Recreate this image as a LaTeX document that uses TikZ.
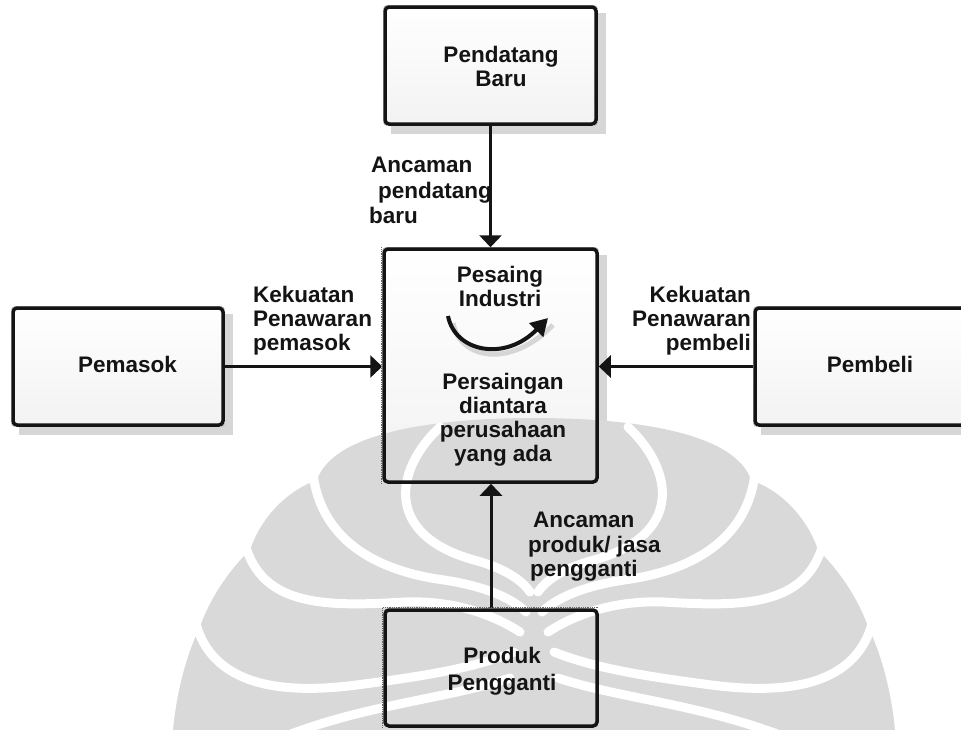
\documentclass[tikz,border=0pt]{standalone}
\usepackage{fontspec}
\setmainfont{Liberation Sans}
\usetikzlibrary{arrows.meta}
\pgfdeclarelayer{bg}
\pgfdeclarelayer{wm}
\pgfsetlayers{bg,wm,main}
\tikzset{
  box/.style={draw=black!92, line width=3.5pt, rounded corners=4pt, inner sep=0pt},
  lbl/.style={font=\bfseries\fontsize{22.5pt}{#1}\selectfont, inner sep=0pt, text=black!92},
  lbl/.default=24pt,
  conn/.style={line width=3pt, draw=black!92, -{Triangle[length=12pt,width=22pt]}},
  wmline/.style={white, line width=9pt, line cap=round},
  wmfill/.style={fill=black!15},
}
\begin{document}
\begin{tikzpicture}[x=1pt,y=-1pt]
\useasboundingbox (0,0) rectangle (961,729);

% boxes
\node[box, minimum width=211pt, minimum height=117pt] (top) at (490.5,65.5) {};
\node[box, minimum width=213pt, minimum height=233pt] (mid) at (490.5,365.5) {};
\node[box, minimum width=210pt, minimum height=117pt] (lft) at (118,366.5) {};
\node[box, minimum width=212pt, minimum height=117pt] (rgt) at (861,366.5) {};
\node[box, minimum width=212pt, minimum height=116pt] (bot) at (491,668) {};

% texts in boxes
\node[lbl=24pt, align=center, anchor=north] (topt) at (501,46) {Pendatang\\Baru};
\node[lbl=24pt, align=center, anchor=north] (midt1) at (500,266) {Pesaing\\Industri};
\node[lbl=24pt, align=center, anchor=north] (midt2) at (503,373) {Persaingan\\diantara\\perusahaan\\yang ada};
\node[lbl, anchor=base] (lftt) at (127.5,372) {Pemasok};
\node[lbl, anchor=base] (rgtt) at (870,372) {Pembeli};
\node[lbl=26.5pt, align=center, anchor=north] (bott) at (502,647) {Produk\\Pengganti};

% connector labels
\node[lbl=25.5pt, align=left, anchor=north west] (l1) at (369,157) {\hspace*{2pt}Ancaman\\\hspace*{9pt}pendatang\\baru};
\node[lbl=24pt, align=left, anchor=north west] (l2) at (253,286) {Kekuatan\\Penawaran\\pemasok};
\node[lbl=24pt, align=right, anchor=north east] (l3) at (751,286) {Kekuatan\\Penawaran\\pembeli};
\node[lbl=24.5pt, align=left, anchor=north west] (l4) at (528,512) {\hspace*{5pt}Ancaman\\produk/ jasa\\\hspace*{2pt}pengganti};

% connectors
\draw[conn] (top.south) -- (mid.north);
\draw[conn] (lft.east) -- (lft.east -| mid.west);
\draw[conn] (rgt.west) -- (rgt.west -| mid.east);
\draw[conn] (bot.north) -- (bot.north |- mid.south);

% curved arrow inside
\coordinate (cs) at (448,316);
\coordinate (ce) at (548,318);
\draw[line width=4pt, black!92, -{Triangle[length=17pt,width=19pt]}] (cs) .. controls (455,352) and (505,362) .. (ce);

% dotted artefacts
\draw[black!60, line width=0.8pt, densely dotted] ([xshift=-1pt]mid.north west) -- ([xshift=-1pt]mid.south west);
\draw[black!60, line width=0.8pt, densely dotted] ([xshift=-1pt]bot.north west) -- ([xshift=-1pt]bot.south west);
\draw[black!60, line width=0.8pt, densely dotted] ([yshift=1pt]bot.north west) -- ([yshift=1pt]bot.north east);

\begin{pgfonlayer}{bg}
  \foreach \n in {top,mid,lft,rgt,bot}{
    \fill[black!16] ([shift={(8,8)}]\n.north west) rectangle ([shift={(8,8)}]\n.south east);
    \fill[top color=white, bottom color=black!5, rounded corners=4pt] (\n.north west) rectangle (\n.south east);
  }
  \draw[black!16, line width=5pt] (453,323) .. controls (460,359) and (510,369) .. (553,325);
\end{pgfonlayer}

\begin{pgfonlayer}{wm}
  \foreach \s in {1,-1}{
    \begin{scope}[shift={(534,0)}, xscale=\s]
      \fill[wmfill] (3,418) -- (0,418) .. controls (-90,418) and (-200,430) .. (-217,480)
        .. controls (-245,490) and (-272,515) .. (-284,550)
        .. controls (-305,570) and (-325,600) .. (-334,627)
        .. controls (-348,655) and (-360,700) .. (-362,745) -- (3,745) -- cycle;
    \end{scope}
  }
  \foreach \s in {1,-1}{
    \begin{scope}[shift={(534,0)}, xscale=\s]
      \draw[wmline] (-94,427) .. controls (-140,470) and (-150,535) .. (-60,560)
        .. controls (-30,568) and (-12,580) .. (-4,592);
      \draw[wmline] (-221,474) .. controls (-212,545) and (-150,572) .. (-90,580)
        .. controls (-50,586) and (-22,598) .. (-8,612);
      \draw[wmline] (-289,544) .. controls (-272,606) and (-210,607) .. (-130,602)
        .. controls (-80,600) and (-40,615) .. (-14,632);
      \draw[wmline] (-339,620) .. controls (-322,692) and (-240,694) .. (-170,684)
        .. controls (-110,676) and (-60,668) .. (-20,652);
      \draw[wmline] (-270,745) .. controls (-180,705) and (-90,700) .. (-24,678);
    \end{scope}
  }
\end{pgfonlayer}
\end{tikzpicture}
\end{document}
